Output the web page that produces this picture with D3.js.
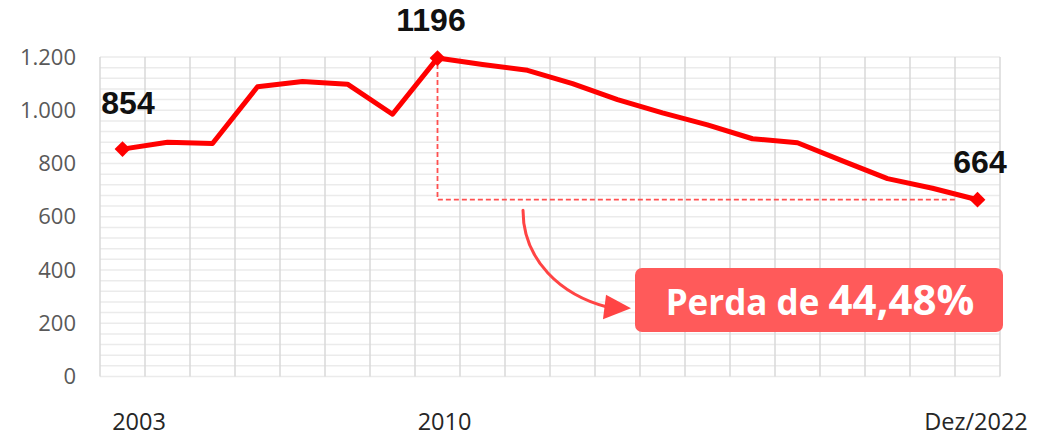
<!DOCTYPE html>
<html>
<head>
<meta charset="utf-8">
<script src="https://cdn.jsdelivr.net/npm/d3@7"></script>
<style>
  html, body { margin: 0; padding: 0; background: #fff; }
  svg { display: block; }
</style>
</head>
<body>
<svg id="chart" width="1038" height="438"></svg>
<script>
// ---- data ----
const categories = ["2003","2004","2005","2006","2007","2008","2009","2010","2011","2012",
                    "2013","2014","2015","2016","2017","2018","2019","2020","2021","Dez/2022"];
const values = [854, 880, 875, 1088, 1108, 1098, 985, 1196, 1172, 1150,
                1100, 1040, 990, 945, 893, 878, 810, 743, 707, 664];
const yTicks = [0, 200, 400, 600, 800, 1000, 1200];
const xTickLabels = ["2003", "2010", "Dez/2022"];
const labeledPoints = ["2003", "2010", "Dez/2022"];
const lossText = ["Perda de ", "44,48%"];

// ---- layout ----
const svg = d3.select("#chart");
const x = d3.scaleBand().domain(categories).range([100, 1000]).padding(0);
const y = d3.scaleLinear().domain([0, 1200]).range([376.5, 57]);
const cx = c => x(c) + x.bandwidth() / 2;

// horizontal minor grid (every 40)
const hLines = d3.range(0, 1201, 40);
svg.append("g").selectAll("line").data(hLines).join("line")
  .attr("x1", 100).attr("x2", 1000)
  .attr("y1", d => y(d)).attr("y2", d => y(d))
  .attr("stroke", "#ebebeb").attr("stroke-width", 1.5);

// vertical grid at band boundaries
const vLines = categories.map(c => x(c)).concat([x.range()[1]]);
svg.append("g").selectAll("line").data(vLines).join("line")
  .attr("x1", d => d).attr("x2", d => d)
  .attr("y1", y(1200)).attr("y2", y(0))
  .attr("stroke", "#d9d9d9").attr("stroke-width", 1.5);

// y axis labels
const yAxis = d3.axisLeft(y).tickValues(yTicks).tickSize(0).tickPadding(0)
  .tickFormat(d => d3.format(",")(d).replace(/,/g, "."));
svg.append("g").attr("transform", "translate(76,0)").call(yAxis)
  .call(g => g.select(".domain").remove())
  .selectAll("text")
  .attr("font-family", "'Open Sans', sans-serif")
  .attr("font-size", 22)
  .attr("fill", "#595959");

// x labels
const xLabelDx = {"2003": 16.5, "2010": 7, "Dez/2022": -1.5};
svg.append("g").selectAll("text").data(xTickLabels).join("text")
  .attr("x", d => cx(d) + xLabelDx[d])
  .attr("y", 430)
  .attr("text-anchor", "middle")
  .attr("font-family", "'Open Sans', sans-serif")
  .attr("font-size", 23.5)
  .attr("fill", "#262626")
  .text(d => d);

// dashed annotation (peak to last)
const peakCat = "2010", lastCat = "Dez/2022";
const peakV = values[categories.indexOf(peakCat)];
const lastV = values[categories.indexOf(lastCat)];
svg.append("path")
  .attr("d", `M${cx(peakCat)},${y(peakV) + 6} L${cx(peakCat)},${y(lastV)} L${cx(lastCat) - 22},${y(lastV)}`)
  .attr("fill", "none")
  .attr("stroke", "#ff5050")
  .attr("stroke-width", 1.8)
  .attr("stroke-dasharray", "5,3");

// line
const line = d3.line().x((d, i) => cx(categories[i])).y(d => y(d));
svg.append("path").datum(values)
  .attr("d", line)
  .attr("fill", "none")
  .attr("stroke", "#ff0000")
  .attr("stroke-width", 5)
  .attr("stroke-linejoin", "round");

// markers
const sym = d3.symbol().type(d3.symbolSquare).size(125);
svg.append("g").selectAll("path").data(labeledPoints).join("path")
  .attr("d", sym)
  .attr("transform", d => `translate(${cx(d)},${y(values[categories.indexOf(d)])}) rotate(45)`)
  .attr("fill", "#ff0000");

// value labels
const labelOff = {"2003": [5.5, -35], "2010": [-6.5, -27], "Dez/2022": [2.5, -26.5]};
svg.append("g").selectAll("text").data(labeledPoints).join("text")
  .attr("x", d => cx(d) + labelOff[d][0])
  .attr("y", d => y(values[categories.indexOf(d)]) + labelOff[d][1])
  .attr("text-anchor", "middle")
  .attr("font-family", "'Liberation Sans', Arial, sans-serif")
  .attr("font-weight", "bold")
  .attr("font-size", 32)
  .attr("fill", "#111")
  .text(d => values[categories.indexOf(d)]);

// curved arrow
const ax0 = cx("2012") - 4.5, ay0 = y(lastV) + 10.5;
svg.append("path")
  .attr("d", `M${ax0},${ay0} C${ax0},${ay0 + 50} ${ax0 + 38},${ay0 + 85} ${ax0 + 85},${ay0 + 97}`)
  .attr("fill", "none")
  .attr("stroke", "#ff4444")
  .attr("stroke-width", 3)
  .attr("stroke-linecap", "round");
svg.append("path")
  .attr("d", `M${ax0 + 108},${ay0 + 98} L${ax0 + 83},${ay0 + 84.5} L${ax0 + 80},${ay0 + 109} Z`)
  .attr("fill", "#ff4444");

// loss box
const bx0 = 635, by0 = 268, bw = 368, bh = 64;
svg.append("rect")
  .attr("x", bx0).attr("y", by0).attr("width", bw).attr("height", bh)
  .attr("rx", 7).attr("fill", "#ff5a5a");
const t = svg.append("text")
  .attr("x", bx0 + bw / 2 + 1)
  .attr("y", by0 + 47)
  .attr("text-anchor", "middle")
  .attr("font-family", "'Open Sans', sans-serif")
  .attr("font-weight", "bold")
  .attr("fill", "#fff");
t.append("tspan").attr("font-size", 35).text(lossText[0]);
t.append("tspan").attr("font-size", 42).text(lossText[1]);
</script>
</body>
</html>
